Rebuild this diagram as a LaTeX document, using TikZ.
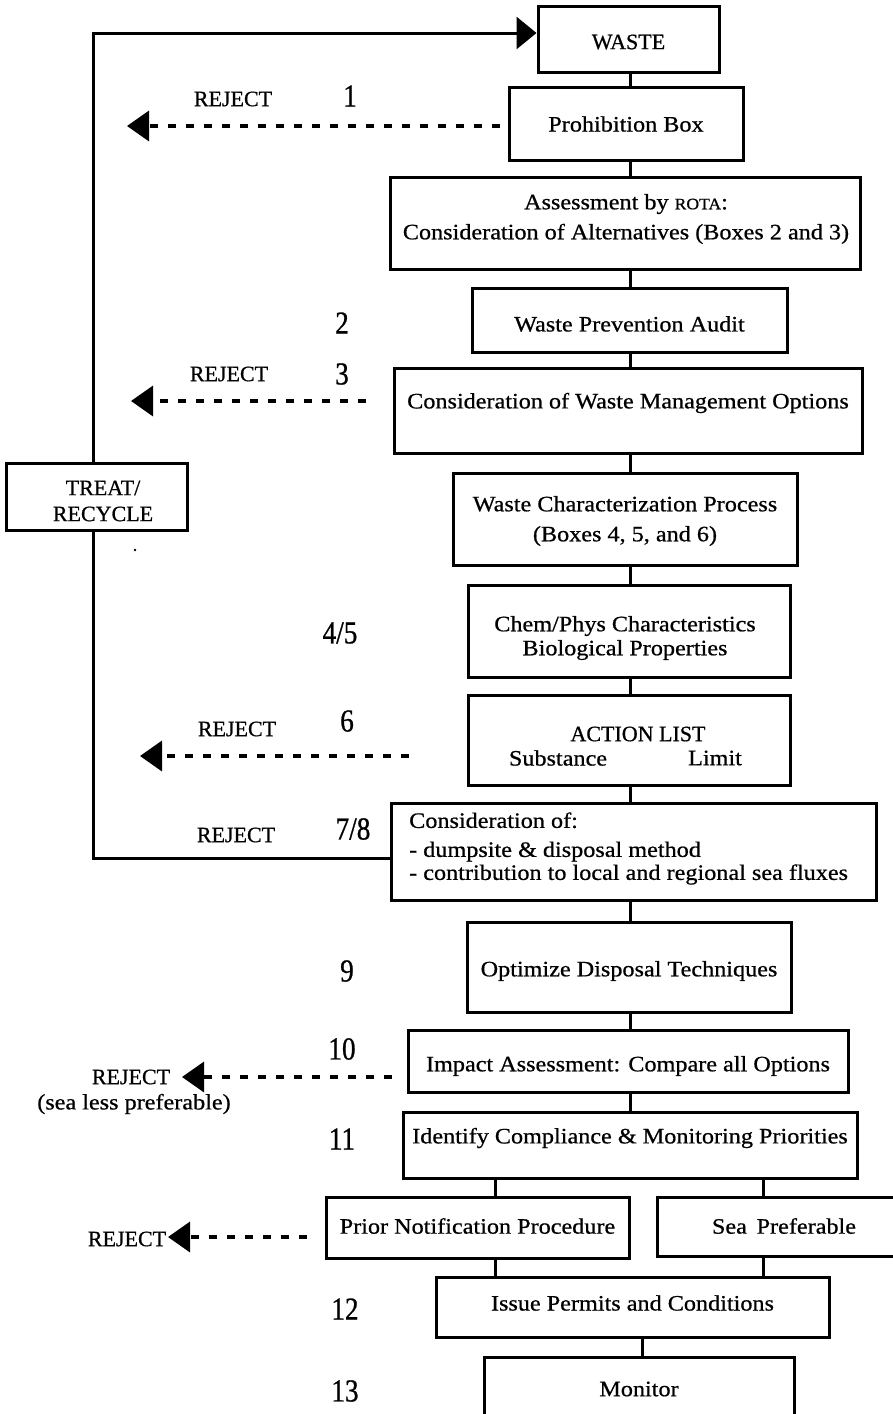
\documentclass[tikz,border=0pt]{standalone}
\usepackage{fontspec}
\setmainfont{Liberation Serif}[FakeBold=0.7]
\newfontfamily\bxf{Liberation Serif}[FakeStretch=1.1,FakeBold=0.7]
\newfontfamily\nmf{Liberation Serif}[FakeStretch=0.85,FakeBold=0.8]
\usetikzlibrary{arrows.meta}
\begin{document}
\begin{tikzpicture}[x=1pt,y=-1pt,
  box/.style={draw, line width=3pt, inner sep=0pt},
  bt/.style={font=\bxf\fontsize{22}{30}\selectfont, inner sep=0pt, align=center},
  ct/.style={font=\fontsize{22}{26}\selectfont, inner sep=0pt, align=center},
  nt/.style={font=\nmf\fontsize{32}{32}\selectfont, inner sep=0pt},
  ln/.style={line width=3pt},
  rej/.style={line width=3.5pt, dash pattern=on 8pt off 10pt, -{Triangle[length=22pt,width=30pt]}}]
\useasboundingbox (0,0) rectangle (893,1414);
\clip (0,0) rectangle (893,1414);

% ---------- boxes ----------
\node[box, minimum width=181pt, minimum height=66pt] (waste) at (628.5,39) {};
\node[ct] (waste-t) at (628.5,42) {WASTE};

\node[box, minimum width=234pt, minimum height=73pt] (prohib) at (626,123.5) {};
\node[bt] (prohib-t) at (626,124) {Prohibition Box};

\node[box, minimum width=470pt, minimum height=92pt] (assess) at (625,223) {};
\node[bt] (assess-t) at (626,219) {Assessment by {\fontsize{16}{16}\selectfont ROTA}:\\Consideration of Alternatives (Boxes 2 and 3)};

\node[box, minimum width=315pt, minimum height=64pt] (wpa) at (629.5,320) {};
\node[bt] (wpa-t) at (629.5,324) {Waste Prevention Audit};

\node[box, minimum width=468pt, minimum height=85pt] (cwmo) at (628,410.5) {};
\node[bt] (cwmo-t) at (628,403) {Consideration of Waste Management Options};

\node[box, minimum width=344pt, minimum height=92pt] (wcp) at (625,519) {};
\node[bt] (wcp-t) at (625,521) {Waste Characterization Process\\(Boxes 4, 5, and 6)};

\node[box, minimum width=322pt, minimum height=92pt] (chem) at (629,631) {};
\node[bt, font=\bxf\fontsize{22}{24}\selectfont] (chem-t) at (625,638) {Chem/Phys Characteristics\\Biological Properties};

\node[box, minimum width=322pt, minimum height=90pt] (action) at (629,740) {};
\node[ct] (action-t) at (638,734) {ACTION LIST};
\node[bt] (subst-t) at (558,758) {Substance};
\node[bt] (limit-t) at (715,758) {Limit};

\node[box, minimum width=485pt, minimum height=97pt] (cons) at (633.5,851.5) {};
\node[bt, align=left, anchor=west, font=\bxf\fontsize{22}{23}\selectfont] (cons-t) at (409,848.5)
  {Consideration of:\\[6pt]- dumpsite \& disposal method\\- contribution to local and regional sea fluxes};

\node[box, minimum width=324pt, minimum height=90pt] (optim) at (629,967) {};
\node[bt] (optim-t) at (629,971) {Optimize Disposal Techniques};

\node[box, minimum width=440pt, minimum height=62pt] (impact) at (628,1061) {};
\node[bt] (impact-t) at (628,1066) {Impact Assessment: Compare all Options};

\node[box, minimum width=454pt, minimum height=66pt] (ident) at (630,1145) {};
\node[bt] (ident-t) at (630,1138) {Identify Compliance \& Monitoring Priorities};

\node[box, minimum width=303pt, minimum height=61pt] (prior) at (477.5,1227.5) {};
\node[bt] (prior-t) at (477.5,1226) {Prior Notification Procedure};

\node[box, minimum width=250pt, minimum height=59pt] (sea) at (782,1226.5) {};
\node[bt] (sea-t) at (784,1226) {Sea\, Preferable};

\node[box, minimum width=393pt, minimum height=60pt] (issue) at (632.5,1307) {};
\node[bt] (issue-t) at (632.5,1303) {Issue Permits and Conditions};

\node[box, minimum width=310pt, minimum height=83pt] (monitor) at (639,1398.5) {};
\node[bt] (monitor-t) at (639,1389) {Monitor};

\node[box, minimum width=181pt, minimum height=67pt] (treat) at (96.5,496.5) {};
\node[ct] (treat-t) at (103,501) {TREAT/\\RECYCLE};

% ---------- numbers ----------
\node[nt] (n1) at (350,96) {1};
\node[nt] (n2) at (342,323) {2};
\node[nt] (n3) at (342,374) {3};
\node[nt] (n45) at (340,633) {4/5};
\node[nt] (n6) at (347,721) {6};
\node[nt] (n78) at (353,829) {7/8};
\node[nt] (n9) at (347,971) {9};
\node[nt] (n10) at (342,1049) {10};
\node[nt] (n11) at (342,1139) {11};
\node[nt] (n12) at (345,1309) {12};
\node[nt] (n13) at (345,1391) {13};

% ---------- reject labels ----------
\node[ct] (rj1) at (233,99) {REJECT};
\node[ct] (rj3) at (229,374) {REJECT};
\node[ct] (rj6) at (237,729) {REJECT};
\node[ct] (rj78) at (236,835) {REJECT};
\node[ct] (rj10) at (131,1077) {REJECT};
\node[bt] (rj10b) at (134,1104) {(sea less preferable)};
\node[ct] (rjpn) at (127,1239) {REJECT};

% ---------- spine connectors ----------
\coordinate (sp) at (630,0);
\coordinate (sl) at (495,0);
\coordinate (sr) at (763,0);
\coordinate (sm) at (642,0);
\draw[ln] (waste.south -| sp) -- (prohib.north -| sp);
\draw[ln] (prohib.south -| sp) -- (assess.north -| sp);
\draw[ln] (assess.south -| sp) -- (wpa.north -| sp);
\draw[ln] (wpa.south -| sp) -- (cwmo.north -| sp);
\draw[ln] (cwmo.south -| sp) -- (wcp.north -| sp);
\draw[ln] (wcp.south -| sp) -- (chem.north -| sp);
\draw[ln] (chem.south -| sp) -- (action.north -| sp);
\draw[ln] (action.south -| sp) -- (cons.north -| sp);
\draw[ln] (cons.south -| sp) -- (optim.north -| sp);
\draw[ln] (optim.south -| sp) -- (impact.north -| sp);
\draw[ln] (impact.south -| sp) -- (ident.north -| sp);
\draw[ln] (ident.south -| sl) -- (prior.north -| sl);
\draw[ln] (ident.south -| sr) -- (sea.north -| sr);
\draw[ln] (prior.south -| sl) -- (issue.north -| sl);
\draw[ln] (sea.south -| sr) -- (issue.north -| sr);
\draw[ln] (issue.south -| sm) -- (monitor.north -| sm);

% ---------- feedback loop ----------
\coordinate (fbl) at (93,858);
\coordinate (fbt) at (93,33);
\draw[ln] (cons.west |- fbl) -- (fbl) -- (treat.south -| fbl);
\draw[ln, -{Triangle[length=20pt,width=32pt]}] (treat.north -| fbt) -- (fbt) -- (waste.west |- fbt);

% ---------- reject arrows ----------
\coordinate (r1) at (127,126);
\coordinate (r3) at (131,401);
\coordinate (r6) at (140,756);
\coordinate (r10) at (182,1077);
\coordinate (rpn) at (168,1237);
\draw[rej, shorten <=8pt] (prohib.west |- r1) -- (r1);
\draw[rej, shorten <=27pt] (cwmo.west |- r3) -- (r3);
\draw[rej, shorten <=58pt] (action.west |- r6) -- (r6);
\draw[rej, shorten <=15pt] (impact.west |- r10) -- (r10);
\draw[rej, shorten <=18pt] (prior.west |- rpn) -- (rpn);

% stray dot
\fill (135,550) circle (1.3pt);
\end{tikzpicture}
\end{document}
